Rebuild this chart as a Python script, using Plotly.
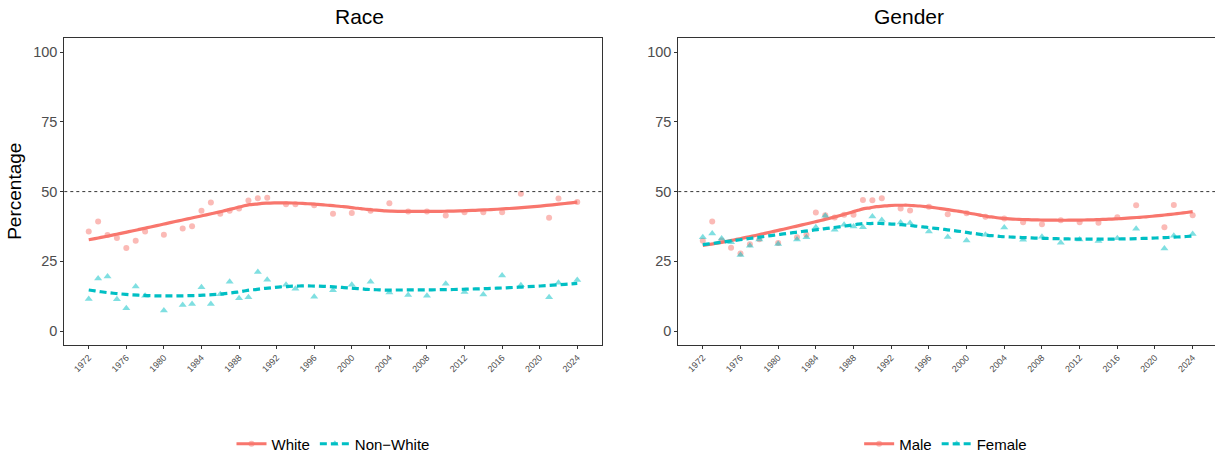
import numpy as np
import plotly.graph_objects as go

# ---------------- data ----------------
years = [1972, 1973, 1974, 1975, 1976, 1977, 1978, 1980, 1982, 1983, 1984, 1985,
         1986, 1987, 1988, 1989, 1990, 1991, 1993, 1994, 1996, 1998, 2000, 2002,
         2004, 2006, 2008, 2010, 2012, 2014, 2016, 2018, 2021, 2022, 2024]

white = [35.7, 39.3, 34.4, 33.4, 29.8, 32.4, 35.7, 34.5, 36.8, 37.6, 43.1, 46.1,
         42.1, 43.1, 43.9, 46.8, 47.6, 47.8, 45.5, 45.5, 45.1, 42.1, 42.3, 43.1,
         45.8, 42.9, 42.9, 41.4, 42.6, 42.6, 42.6, 49.2, 40.6, 47.5, 46.3]

nonwhite = [11.5, 18.8, 19.6, 11.4, 8.2, 16.0, 12.7, 7.4, 9.3, 9.7, 15.7, 9.7,
            13.2, 17.7, 11.8, 12.1, 21.2, 18.4, 16.6, 15.2, 12.3, 14.6, 16.6, 17.7,
            13.8, 12.9, 12.7, 17.0, 14.0, 13.1, 19.9, 16.4, 12.1, 17.3, 18.3]

male = [32.4, 39.3, 32.5, 29.9, 27.8, 31.1, 32.9, 31.6, 33.6, 34.5, 42.5, 41.5,
        40.7, 41.7, 41.7, 47.0, 46.9, 47.6, 43.9, 43.2, 44.6, 41.9, 42.2, 41.0,
        40.4, 39.0, 38.3, 39.7, 39.0, 38.8, 40.8, 45.1, 37.2, 45.2, 41.5]

female = [33.6, 35.0, 33.2, 31.8, 27.3, 30.6, 32.8, 31.2, 32.8, 33.6, 37.2, 41.3,
          36.3, 38.1, 37.5, 37.2, 41.1, 39.8, 38.9, 38.7, 35.7, 33.7, 32.5, 34.5,
          37.1, 32.7, 33.8, 31.7, 32.8, 32.3, 33.3, 36.7, 29.6, 34.2, 34.8]

x_ticks = [1972, 1976, 1980, 1984, 1988, 1992, 1996, 2000, 2004, 2008, 2012,
           2016, 2020, 2024]
y_ticks = [0, 25, 50, 75, 100]

RED = "#F8766D"
CYAN = "#00BFC4"


def loess(x, y, xs, span=0.75):
    """Local quadratic regression with tricube weights (like geom_smooth)."""
    x = np.asarray(x, float)
    y = np.asarray(y, float)
    n = len(x)
    q = int(np.floor(n * span))
    out = []
    for x0 in xs:
        d = np.abs(x - x0)
        h = np.sort(d)[q - 1]
        w = np.clip(1 - (d / h) ** 3, 0, None) ** 3
        X = np.vstack([np.ones(n), x - x0, (x - x0) ** 2]).T
        Wt = np.sqrt(w)
        beta, *_ = np.linalg.lstsq(X * Wt[:, None], y * Wt, rcond=None)
        out.append(beta[0])
    return np.array(out)


xs = np.linspace(min(years), max(years), 80)

fig = go.Figure()


def add_group(vals, color, symbol, dash, name, xa, ya, legend):
    msize = 6 if symbol == "circle" else 7
    fig.add_trace(go.Scatter(
        x=years, y=vals, mode="markers", xaxis=xa, yaxis=ya,
        marker=dict(color=color, symbol=symbol, size=msize,
                    opacity=0.5, line=dict(width=0)),
        showlegend=False, hoverinfo="skip"))
    fig.add_trace(go.Scatter(
        x=xs, y=loess(years, vals, xs), mode="lines", xaxis=xa, yaxis=ya,
        line=dict(color=color, width=3.2, dash=dash, shape="spline"),
        showlegend=False))
    # legend key (line + point)
    fig.add_trace(go.Scatter(
        x=[None], y=[None], mode="lines+markers", xaxis=xa, yaxis=ya,
        name=name, legend=legend,
        line=dict(color=color, width=3.2, dash=dash),
        marker=dict(color=color, symbol=symbol, size=msize, opacity=0.5)))


add_group(white, RED, "circle", "solid", "White", "x", "y", "legend")
add_group(nonwhite, CYAN, "triangle-up", "7px,4px", "Non\u2212White", "x", "y", "legend")
add_group(male, RED, "circle", "solid", "Male", "x2", "y2", "legend2")
add_group(female, CYAN, "triangle-up", "7px,4px", "Female", "x2", "y2", "legend2")

W, H = 1215, 458
dom1 = [64.3 / W, 601.7 / W]
dom2 = [678.3 / W, 1.0]
ydom = [1 - 345 / H, 1 - 38.2 / H]
c1 = (dom1[0] + dom1[1]) / 2
c2 = (dom2[0] + 1213 / W) / 2

axis_common = dict(showgrid=False, zeroline=False, showline=True, mirror=True,
                   linecolor="#333333", linewidth=1, ticks="outside", ticklen=3,
                   tickcolor="#333333", tickwidth=1)

xcommon = dict(axis_common, tickmode="array", tickvals=x_ticks,
               ticktext=[str(t) for t in x_ticks], tickangle=-45,
               tickfont=dict(size=9, color="#4D4D4D"))
ycommon = dict(axis_common, tickmode="array", tickvals=y_ticks,
               ticktext=[str(t) for t in y_ticks], range=[-5, 105],
               tickfont=dict(size=14.5, color="#4D4D4D"))

fig.update_layout(
    width=W, height=H,
    margin=dict(l=0, r=0, t=0, b=0, autoexpand=False),
    paper_bgcolor="white", plot_bgcolor="white",
    font=dict(family="Liberation Sans, Arial, sans-serif", color="black"),
    xaxis=dict(xcommon, domain=dom1, range=[1969.4, 2026.6], anchor="y"),
    yaxis=dict(ycommon, domain=ydom, anchor="x"),
    xaxis2=dict(xcommon, domain=dom2, range=[1969.4, 1972 + (1215 - 703) / 9.417], anchor="y2"),
    yaxis2=dict(ycommon, domain=ydom, anchor="x2"),
    legend=dict(orientation="h", x=c1, xanchor="center",
                y=1 - 444 / H, yanchor="middle", font=dict(size=15),
                itemwidth=30, bgcolor="rgba(0,0,0,0)"),
    legend2=dict(orientation="h", x=c2, xanchor="center",
                 y=1 - 444 / H, yanchor="middle", font=dict(size=15),
                 itemwidth=30, bgcolor="rgba(0,0,0,0)"),
    shapes=[
        dict(type="line", xref="x domain", yref="y", x0=0, x1=1, y0=50, y1=50,
             line=dict(color="black", width=0.8, dash="3px,3px")),
        dict(type="line", xref="x2 domain", yref="y2", x0=0, x1=1, y0=50, y1=50,
             line=dict(color="black", width=0.8, dash="3px,3px")),
    ],
    annotations=[
        dict(text="Race", x=c1, y=1 - 16.5 / H, xref="paper",
             yref="paper", showarrow=False, font=dict(size=21), yanchor="middle"),
        dict(text="Gender", x=c2, y=1 - 16.5 / H, xref="paper",
             yref="paper", showarrow=False, font=dict(size=21), yanchor="middle"),
        dict(text="Percentage", x=15 / W, y=1 - 191.8 / H, xref="paper",
             yref="paper", showarrow=False, font=dict(size=19), textangle=-90,
             xanchor="center", yanchor="middle"),
    ],
)

fig.write_html("out.html",
               config={"displayModeBar": False},
               post_script="document.body.style.margin='0px';"
                           "document.body.style.overflow='hidden';")
